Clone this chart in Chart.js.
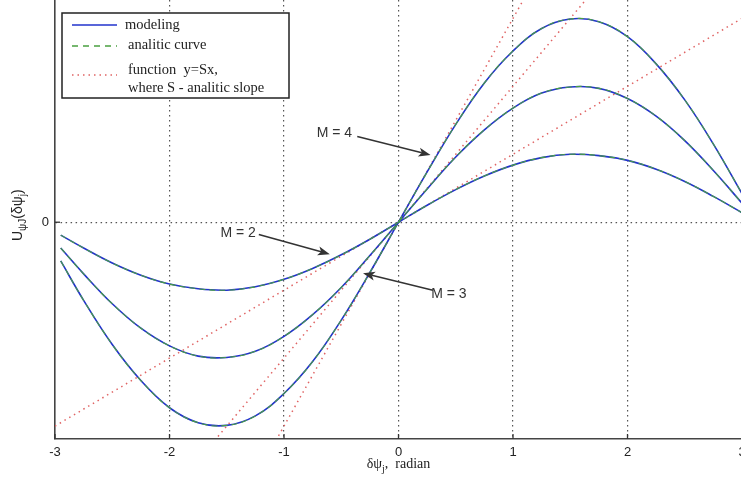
<!DOCTYPE html>
<html>
<head>
<meta charset="utf-8">
<script src="https://cdn.jsdelivr.net/npm/chart.js@4.4.0/dist/chart.umd.min.js"></script>
<style>
html, body { margin: 0; padding: 0; background: #fff; overflow: hidden; width: 741px; height: 489px; }
#wrap { position: absolute; left: 0; top: 0; width: 800px; height: 489px; }
</style>
</head>
<body>
<div id="wrap"><canvas id="chart"></canvas></div>
<script>
// --- data ---
const xTicks = [-3, -2, -1, 0, 1, 2, 3];
const yTicks = [0];
const sampleX = [-2.95, -2.75, -2.5, -2.25, -2, -1.75, -1.5, -1.25, -1, -0.75, -0.5, -0.25, 0,
                 0.25, 0.5, 0.75, 1, 1.25, 1.5, 1.75, 2, 2.25, 2.5, 2.75, 3];
const curveM2 = [-0.19, -0.38, -0.60, -0.78, -0.91, -0.98, -1.00, -0.95, -0.84, -0.68, -0.48, -0.25, 0,
                 0.25, 0.48, 0.68, 0.84, 0.95, 1.00, 0.98, 0.91, 0.78, 0.60, 0.38, 0.14];
const curveM3 = [-0.38, -0.76, -1.20, -1.56, -1.82, -1.97, -1.99, -1.90, -1.68, -1.36, -0.96, -0.49, 0,
                 0.49, 0.96, 1.36, 1.68, 1.90, 1.99, 1.97, 1.82, 1.56, 1.20, 0.76, 0.28];
const curveM4 = [-0.57, -1.15, -1.80, -2.33, -2.73, -2.95, -2.99, -2.85, -2.52, -2.05, -1.44, -0.74, 0,
                 0.74, 1.44, 2.05, 2.52, 2.85, 2.99, 2.95, 2.73, 2.33, 1.80, 1.15, 0.42];
const slopeX = [-3, 3];
const slopeY1 = [-3, 3];
const slopeY2 = [-6, 6];
const slopeY3 = [-9, 9];
const labelsM = ['M = 2', 'M = 3', 'M = 4'];

const pts = (xs, ys) => xs.map((x, i) => ({ x: x, y: ys[i] }));

const BLUE = '#2233cc';
const GREEN = '#4aa040';
const RED = '#e06464';
const SANS = '"Liberation Sans", Arial, sans-serif';
const SERIF = '"Liberation Serif", "Times New Roman", serif';

function modelSet(ys) {
    return { data: pts(sampleX, ys), borderColor: BLUE, borderWidth: 1.6, pointRadius: 0, tension: 0.4, order: 1 };
}
function analyticSet(ys) {
    return { data: pts(sampleX, ys), borderColor: GREEN, borderWidth: 1.1, borderDash: [6, 4], pointRadius: 0, tension: 0.4, order: 0 };
}
function slopeSet(ys) {
    return { data: pts(slopeX, ys), borderColor: RED, borderWidth: 1.5, borderDash: [1.5, 4], pointRadius: 0, order: 2 };
}

// rich text with subscripts
function drawRich(ctx, parts, x, y, size, family) {
    let w = 0;
    parts.forEach(p => {
        ctx.font = (p.sub ? size * 0.72 : size) + 'px ' + (p.font || family);
        p.w = ctx.measureText(p.t).width;
        w += p.w;
    });
    let cx = x - w / 2;
    ctx.textAlign = 'left';
    ctx.textBaseline = 'middle';
    parts.forEach(p => {
        ctx.font = (p.sub ? size * 0.72 : size) + 'px ' + (p.font || family);
        ctx.fillText(p.t, cx, p.sub ? y + size * 0.35 : y);
        cx += p.w;
    });
}

function arrow(ctx, x1, y1, x2, y2) {
    const a = Math.atan2(y2 - y1, x2 - x1);
    const hl = 12, hw = 4.5;
    const bx = x2 - hl * Math.cos(a), by = y2 - hl * Math.sin(a);
    ctx.beginPath();
    ctx.moveTo(x1, y1);
    ctx.lineTo(bx + 3 * Math.cos(a), by + 3 * Math.sin(a));
    ctx.stroke();
    ctx.beginPath();
    ctx.moveTo(x2, y2);
    ctx.lineTo(bx - hw * Math.sin(a), by + hw * Math.cos(a));
    ctx.lineTo(bx + 3 * Math.cos(a), by + 3 * Math.sin(a));
    ctx.lineTo(bx + hw * Math.sin(a), by - hw * Math.cos(a));
    ctx.closePath();
    ctx.fill();
}

// annotation arrows: label, label position, arrow start, arrow tip (data units)
const notes = [
    { t: labelsM[0], lx: -1.40, ly: -0.16, x1: -1.22, y1: -0.18, x2: -0.60, y2: -0.47 },
    { t: labelsM[1], lx: 0.44, ly: -1.06, x1: 0.30, y1: -1.00, x2: -0.31, y2: -0.75 },
    { t: labelsM[2], lx: -0.56, ly: 1.31, x1: -0.36, y1: 1.26, x2: 0.28, y2: 0.99 }
];

const overlay = {
    id: 'overlay',
    afterDatasetsDraw(chart) {
        const ctx = chart.ctx;
        const xs = chart.scales.x, ys = chart.scales.y;
        const ca = chart.chartArea;
        ctx.save();

        // inward tick marks (matlab style)
        ctx.strokeStyle = '#333';
        ctx.lineWidth = 1.3;
        xTicks.forEach(v => {
            const px = xs.getPixelForValue(v);
            ctx.beginPath(); ctx.moveTo(px, ca.bottom); ctx.lineTo(px, ca.bottom - 5); ctx.stroke();
        });
        yTicks.forEach(v => {
            const py = ys.getPixelForValue(v);
            ctx.beginPath(); ctx.moveTo(ca.left, py); ctx.lineTo(ca.left + 5, py); ctx.stroke();
        });

        // annotations
        ctx.strokeStyle = '#333';
        ctx.fillStyle = '#333';
        ctx.lineWidth = 1.5;
        notes.forEach(n => {
            arrow(ctx, xs.getPixelForValue(n.x1), ys.getPixelForValue(n.y1),
                  xs.getPixelForValue(n.x2), ys.getPixelForValue(n.y2));
            ctx.font = '14px ' + SANS;
            ctx.textAlign = 'center';
            ctx.textBaseline = 'middle';
            ctx.fillText(n.t, xs.getPixelForValue(n.lx), ys.getPixelForValue(n.ly));
        });

        // legend box
        const lx = ca.left + 7, ly = 13;
        ctx.fillStyle = '#fff';
        ctx.fillRect(lx, ly, 227, 85);
        ctx.strokeStyle = '#222';
        ctx.lineWidth = 1.5;
        ctx.setLineDash([]);
        ctx.strokeRect(lx, ly, 227, 85);
        const sx1 = lx + 10, sx2 = lx + 55;
        ctx.lineWidth = 1.5;
        ctx.strokeStyle = BLUE;
        ctx.beginPath(); ctx.moveTo(sx1, ly + 12); ctx.lineTo(sx2, ly + 12); ctx.stroke();
        ctx.strokeStyle = GREEN;
        ctx.setLineDash([6, 5]);
        ctx.beginPath(); ctx.moveTo(sx1, ly + 33); ctx.lineTo(sx2, ly + 33); ctx.stroke();
        ctx.strokeStyle = RED;
        ctx.setLineDash([1.5, 4]);
        ctx.beginPath(); ctx.moveTo(sx1, ly + 62); ctx.lineTo(sx2, ly + 62); ctx.stroke();
        ctx.setLineDash([]);
        ctx.fillStyle = '#222';
        ctx.font = '14.5px ' + SERIF;
        ctx.textAlign = 'left';
        ctx.textBaseline = 'middle';
        ctx.fillText('modeling', lx + 63, ly + 12);
        ctx.fillText('analitic curve', lx + 66, ly + 32);
        ctx.fillText('function  y=Sx,', lx + 66, ly + 57);
        ctx.fillText('where S - analitic slope', lx + 66, ly + 75);

        // axis titles
        ctx.fillStyle = '#222';
        drawRich(ctx, [
            { t: 'δψ' },
            { t: 'j', sub: true },
            { t: ',  radian' }
        ], xs.getPixelForValue(0), ca.bottom + 25, 14, SERIF);

        ctx.translate(18, ys.getPixelForValue(0) - 7);
        ctx.rotate(-Math.PI / 2);
        drawRich(ctx, [
            { t: 'U' },
            { t: 'ψJ', sub: true },
            { t: '(δψ' },
            { t: 'j', sub: true },
            { t: ')' }
        ], 0, 0, 14, SANS);
        ctx.restore();
    }
};

function noPad(s) {
    s.paddingTop = 0; s.paddingBottom = 0; s.paddingLeft = 0; s.paddingRight = 0;
}

const chart = new Chart(document.getElementById('chart'), {
    type: 'line',
    data: {
        datasets: [
            slopeSet(slopeY1), slopeSet(slopeY2), slopeSet(slopeY3),
            modelSet(curveM2), modelSet(curveM3), modelSet(curveM4),
            analyticSet(curveM2), analyticSet(curveM3), analyticSet(curveM4)
        ]
    },
    options: {
        responsive: true,
        maintainAspectRatio: false,
        animation: false,
        layout: { padding: { left: 0, right: 58, top: 0, bottom: 0 } },
        plugins: { legend: { display: false }, tooltip: { enabled: false } },
        scales: {
            x: {
                type: 'linear',
                min: -3, max: 3,
                afterBuildTicks: s => { s.ticks = xTicks.map(v => ({ value: v })); },
                afterFit: s => { s.height = 50; noPad(s); },
                ticks: { color: '#222', font: { size: 13, family: SANS }, padding: 6 },
                grid: {
                    color: c => (c.tick && Math.abs(c.tick.value) === 3) ? 'rgba(0,0,0,0)' : '#555',
                    lineWidth: 1.2,
                    drawTicks: false
                },
                border: { display: true, color: '#444', width: 1.6, dash: [1.5, 3.5] }
            },
            y: {
                type: 'linear',
                min: -3.19, max: 3.27,
                afterBuildTicks: s => { s.ticks = yTicks.map(v => ({ value: v })); },
                afterFit: s => { s.width = 55; noPad(s); },
                ticks: { color: '#222', font: { size: 13, family: SANS }, padding: 6 },
                grid: { color: '#555', lineWidth: 1.2, drawTicks: false },
                border: { display: true, color: '#444', width: 1.6, dash: [1.5, 3.5] }
            }
        }
    },
    plugins: [overlay]
});
</script>
</body>
</html>
